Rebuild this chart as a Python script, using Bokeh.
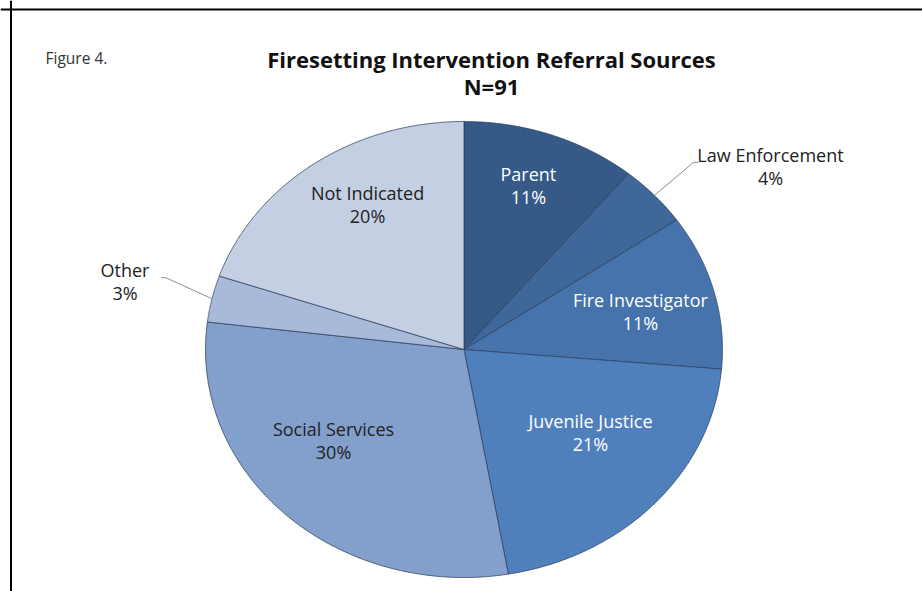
import numpy as np
from bokeh.plotting import figure
from bokeh.models import Range1d, Span
from bokeh.core.properties import value
from bokeh.embed import file_html
from bokeh.resources import INLINE

# ---- data ----
categories = ["Parent", "Law Enforcement", "Fire Investigator", "Juvenile Justice",
              "Social Services", "Other", "Not Indicated"]
counts = [10, 4, 10, 19, 27, 3, 18]
title_text = "Firesetting Intervention Referral Sources"
subtitle_text = "N=91"
figure_label = "Figure 4."

# ---- styles / layout ----
colors = ["#355A87", "#3F6799", "#4673AB", "#4F80BC", "#839FCC", "#A9B9D9", "#C5CFE3"]
text_colors = ["white", "#222222", "white", "white", "#222222", "#222222", "#222222"]
inside = [True, False, True, True, True, False, True]
# per-label radial fractions (x, y) for inside labels
label_frac = [(0.736, 0.765), None, (0.706, 0.65), (0.664, 0.539), (0.733, 0.55), None, (0.641, 0.78)]
# leader: (elbow dx, elbow dy, horizontal run, text centre dx from end)
leader = {1: (39, -33, 5, 72), 5: (-46, -21, -5, -36)}

W, H = 922, 591
cx, cy, rx, ry = 463.5, 349.0, 258.5, 228.0
FONT = "Open Sans"

p = figure(width=W, height=H, output_backend="svg", toolbar_location=None,
           x_range=Range1d(0, W), y_range=Range1d(H, 0), min_border=0)
p.axis.visible = False
p.grid.visible = False
p.outline_line_color = None
p.background_fill_color = "white"

total = sum(counts)
cum = np.concatenate([[0], np.cumsum(counts)]) / total * 2 * np.pi
xs, ys = [], []
for i in range(len(counts)):
    a = np.linspace(cum[i], cum[i + 1], 200)
    xs.append(list(np.concatenate([[cx], cx + rx * np.sin(a), [cx]])))
    ys.append(list(np.concatenate([[cy], cy - ry * np.cos(a), [cy]])))

p.patches(xs, ys, fill_color=colors, line_color="#2E3F5C", line_width=1, line_alpha=0.75)

pcts = [f"{round(c / total * 100)}%" for c in counts]
for i, name in enumerate(categories):
    mid = (cum[i] + cum[i + 1]) / 2
    if inside[i]:
        fx, fy = label_frac[i]
        lx = cx + fx * rx * np.sin(mid)
        ly = cy - fy * ry * np.cos(mid)
    else:
        ex = cx + rx * np.sin(mid)
        ey = cy - ry * np.cos(mid)
        dx, dy, run, tdx = leader[i]
        bx, by = ex + dx, ey + dy
        p.line([ex, bx, bx + run], [ey, by, by], line_color="#8C8C8C", line_width=1)
        lx = bx + run + tdx
        ly = by + 4
    p.text([lx], [ly - 11.5], text=[name], text_align="center", text_baseline="middle",
           text_font=value(FONT), text_font_size="18px", text_color=text_colors[i])
    p.text([lx], [ly + 11.5], text=[pcts[i]], text_align="center", text_baseline="middle",
           text_font=value(FONT), text_font_size="18px", text_color=text_colors[i])

p.text([491], [58], text=[title_text], text_align="center", text_baseline="middle",
       text_font=value(FONT), text_font_size="22px", text_font_style="bold", text_color="#111111")
p.text([491], [85], text=[subtitle_text], text_align="center", text_baseline="middle",
       text_font=value(FONT), text_font_size="22px", text_font_style="bold", text_color="#111111")
p.text([45], [57], text=[figure_label], text_align="left", text_baseline="middle",
       text_font=value(FONT), text_font_size="15.5px", text_color="#333333")

p.add_layout(Span(location=10.5, dimension="height", line_color="black", line_width=2))
p.add_layout(Span(location=9, dimension="width", line_color="black", line_width=2))

open("out.html", "w").write(file_html(p, INLINE))
